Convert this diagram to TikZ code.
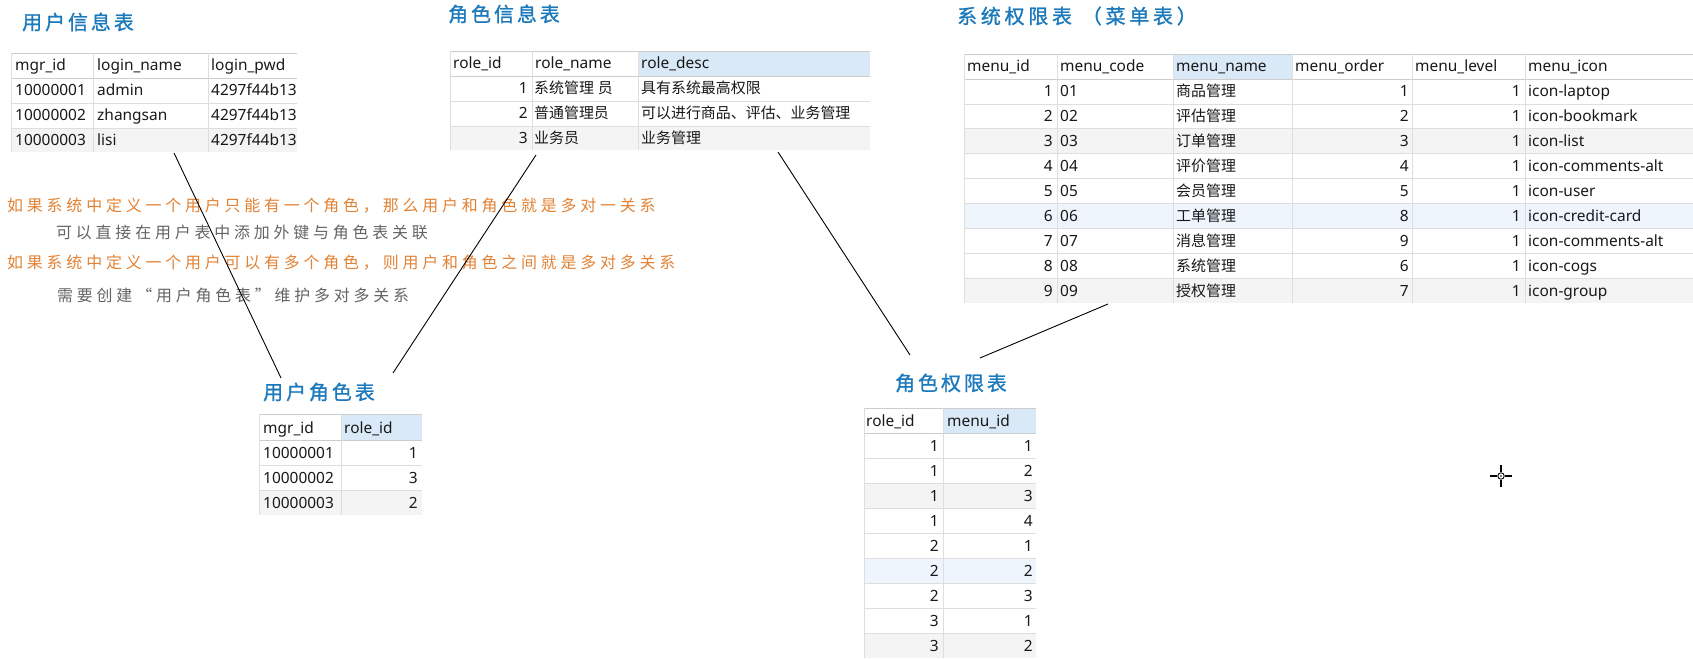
\documentclass[tikz,border=0pt]{standalone}
\usepackage{fontspec}
\setmainfont{Noto Sans}
\newfontfamily\cjk{Noto Sans CJK SC}
\newfontfamily\titlefont[LetterSpace=15,FakeBold=1.2]{Noto Sans CJK SC}
\newfontfamily\titlefontw[LetterSpace=19,FakeBold=1.2]{Noto Sans CJK SC}
\newfontfamily\notefont[LetterSpace=24]{Noto Sans CJK SC}
\definecolor{titleblue}{RGB}{28,122,188}
\definecolor{noteorange}{RGB}{226,130,52}
\definecolor{notegray}{RGB}{100,100,100}
\definecolor{gridc}{RGB}{222,222,222}
\definecolor{headline}{RGB}{205,205,205}
\definecolor{rowgray}{RGB}{244,244,244}
\definecolor{rowblue}{RGB}{238,245,252}
\definecolor{headblue}{RGB}{218,233,247}
\definecolor{txt}{RGB}{25,25,25}
\begin{document}
\begin{tikzpicture}[x=1bp,y=-1bp,
  ttl/.style={anchor=west,inner sep=0,text=titleblue,font=\titlefont\fontsize{20}{22}\selectfont},
  note/.style={anchor=west,inner sep=0,font=\notefont\fontsize{16}{18}\selectfont},
  cl/.style={anchor=base west,inner sep=0,text=txt,font=\fontsize{15.5}{17}\selectfont},
  cr/.style={anchor=base east,inner sep=0,text=txt,font=\fontsize{15.5}{17}\selectfont},
  ccj/.style={anchor=base west,inner sep=0,text=txt,font=\cjk\fontsize{15}{17}\selectfont},
  gl/.style={draw=gridc,line width=0.8bp},
  hl/.style={draw=headline,line width=0.8bp},
  conn/.style={draw=black,line width=0.9bp}]
\fill[white] (0,0) rectangle (1693,659);

% ================= Table 1: 用户信息表 =================
\node[ttl] (title1) at (22,22) {用户信息表};
\fill[rowgray] (11,128) rectangle (297,152);
\draw[hl] (11,53) -- (297,53);
\draw[hl] (11,78) -- (297,78);
\foreach \y in {103,128} \draw[gl] (11,\y) -- (297,\y);
\foreach \x in {11,93,208} \draw[gl] (\x,53) -- (\x,152);
\node[cl] (t1h1) at (15,71) {mgr\_id};
\node[cl] (t1h2) at (97,71) {login\_name};
\node[cl] (t1h3) at (211,71) {login\_pwd};
\foreach \i/\a/\b in {1/10000001/admin,2/10000002/zhangsan,3/10000003/lisi}{
  \node[cl] (t1r\i a) at (15,{71+25*\i}) {\a};
  \node[cl] (t1r\i b) at (97,{71+25*\i}) {\b};
  \node[cl] (t1r\i c) at (211,{71+25*\i}) {4297f44b13};
}

% ================= Table 2: 角色信息表 =================
\node[ttl] (title2) at (448,14) {角色信息表};
\fill[headblue] (638,51) rectangle (870,76);
\fill[rowgray] (450,126) rectangle (870,150);
\draw[hl] (450,51) -- (870,51);
\draw[hl] (450,76) -- (870,76);
\foreach \y in {101,126} \draw[gl] (450,\y) -- (870,\y);
\foreach \x in {450,532,638} \draw[gl] (\x,51) -- (\x,150);
\node[cl] (t2h1) at (453,69) {role\_id};
\node[cl] (t2h2) at (535,69) {role\_name};
\node[cl] (t2h3) at (641,69) {role\_desc};
\node[cr] (t2r1a) at (528,94) {1};
\node[ccj] (t2r1b) at (534,94) {系统管理\hspace{4pt}员};
\node[ccj] (t2r1c) at (641,94) {具有系统最高权限};
\node[cr] (t2r2a) at (528,119) {2};
\node[ccj] (t2r2b) at (534,119) {普通管理员};
\node[ccj] (t2r2c) at (641,119) {可以进行商品、评估、业务管理};
\node[cr] (t2r3a) at (528,144) {3};
\node[ccj] (t2r3b) at (534,144) {业务员};
\node[ccj] (t2r3c) at (641,144) {业务管理};

% ================= Table 3: 系统权限表 =================
\node[ttl,font=\titlefontw\fontsize{20}{22}\selectfont] (title3) at (957,16) {系统权限表\hspace{10pt}（菜单表）};
\fill[headblue] (1173,54) rectangle (1292,79);
\fill[rowgray] (964,128) rectangle (1693,153);
\fill[rowblue] (964,203) rectangle (1693,228);
\fill[rowgray] (964,278) rectangle (1693,303);
\draw[hl] (964,54) -- (1693,54);
\draw[hl] (964,79) -- (1693,79);
\foreach \y in {104,128,153,178,203,228,253,278} \draw[gl] (964,\y) -- (1693,\y);
\foreach \x in {964,1057,1173,1292,1412,1525} \draw[gl] (\x,54) -- (\x,303);
\node[cl] (t3h1) at (967,72) {menu\_id};
\node[cl] (t3h2) at (1060,72) {menu\_code};
\node[cl] (t3h3) at (1176,72) {menu\_name};
\node[cl] (t3h4) at (1295,72) {menu\_order};
\node[cl] (t3h5) at (1415,72) {menu\_level};
\node[cl] (t3h6) at (1528,72) {menu\_icon};
\foreach \i/\n/\o/\ic in {1/商品管理/1/icon-laptop,2/评估管理/2/icon-bookmark,3/订单管理/3/icon-list,
  4/评价管理/4/icon-comments-alt,5/会员管理/5/icon-user,6/工单管理/8/icon-credit-card,
  7/消息管理/9/icon-comments-alt,8/系统管理/6/icon-cogs,9/授权管理/7/icon-group}{
  \node[cr] (t3r\i a) at (1053,{72+24.9*\i}) {\i};
  \node[cl] (t3r\i b) at (1060,{72+24.9*\i}) {0\i};
  \node[ccj] (t3r\i c) at (1176,{72+24.9*\i}) {\n};
  \node[cr] (t3r\i d) at (1409,{72+24.9*\i}) {\o};
  \node[cr] (t3r\i e) at (1521,{72+24.9*\i}) {1};
  \node[cl] (t3r\i f) at (1528,{72+24.9*\i}) {\ic};
}

% ================= Table 4: 用户角色表 =================
\node[ttl] (title4) at (263,392) {用户角色表};
\fill[headblue] (341,414) rectangle (422,440);
\fill[rowgray] (259,490) rectangle (422,515);
\draw[hl] (259,414) -- (422,414);
\draw[hl] (259,440) -- (422,440);
\foreach \y in {465,490} \draw[gl] (259,\y) -- (422,\y);
\foreach \x in {259,341} \draw[gl] (\x,414) -- (\x,515);
\node[cl] (t4h1) at (263,433) {mgr\_id};
\node[cl] (t4h2) at (344,433) {role\_id};
\foreach \i/\a/\b in {1/10000001/1,2/10000002/3,3/10000003/2}{
  \node[cl] (t4r\i a) at (263,{433+25*\i}) {\a};
  \node[cr] (t4r\i b) at (418,{433+25*\i}) {\b};
}

% ================= Table 5: 角色权限表 =================
\node[ttl] (title5) at (895,383) {角色权限表};
\fill[headblue] (943,408) rectangle (1036,433);
\fill[rowgray] (864,483) rectangle (1036,508);
\fill[rowblue] (864,558) rectangle (1036,583);
\fill[rowgray] (864,633) rectangle (1036,658);
\draw[hl] (864,408) -- (1036,408);
\draw[hl] (864,433) -- (1036,433);
\foreach \y in {458,483,508,533,558,583,608,633} \draw[gl] (864,\y) -- (1036,\y);
\foreach \x in {864,943} \draw[gl] (\x,408) -- (\x,658);
\node[cl] (t5h1) at (866,426) {role\_id};
\node[cl] (t5h2) at (947,426) {menu\_id};
\foreach \i/\a/\b in {1/1/1,2/1/2,3/1/3,4/1/4,5/2/1,6/2/2,7/2/3,8/3/1,9/3/2}{
  \node[cr] (t5r\i a) at (939,{426+25*\i}) {\a};
  \node[cr] (t5r\i b) at (1033,{426+25*\i}) {\b};
}

% ================= Notes =================
\node[note,text=noteorange] (n1) at (7,206) {如果系统中定义一个用户只能有一个角色，那么用户和角色就是多对一关系};
\node[note,text=notegray] (n2) at (56,232) {可以直接在用户表中添加外键与角色表关联};
\node[note,text=noteorange] (n3) at (7,263) {如果系统中定义一个用户可以有多个角色，则用户和角色之间就是多对多关系};
\node[note,text=notegray] (n4) at (57,295) {需要创建“用户角色表”维护多对多关系};

% ================= Connectors =================
\coordinate (ua) at (174,153);
\coordinate (ura) at (281,378);
\coordinate (ra) at (536,155);
\coordinate (urb) at (393,373);
\coordinate (rb) at (778,152);
\coordinate (rpa) at (910,355);
\coordinate (ma) at (1108,304);
\coordinate (rpb) at (980,358);
\draw[conn] (ua) -- (ura);
\draw[conn] (ra) -- (urb);
\draw[conn] (rb) -- (rpa);
\draw[conn] (ma) -- (rpb);

% ================= Cursor =================
\coordinate (cur) at (1501,476);
\draw[line width=1.3bp] ([yshift=-11bp]cur) -- ([yshift=-4bp]cur);
\draw[line width=1.3bp] ([yshift=4bp]cur) -- ([yshift=11bp]cur);
\draw[line width=1.3bp] ([xshift=-11bp]cur) -- ([xshift=-4bp]cur);
\draw[line width=1.3bp] ([xshift=4bp]cur) -- ([xshift=11bp]cur);
\draw[line width=0.9bp] (cur) circle[radius=3.2];
\fill (cur) circle[radius=0.9];

\pgfresetboundingbox
\path[use as bounding box] (0,0) rectangle (1693,659);
\end{tikzpicture}
\end{document}
